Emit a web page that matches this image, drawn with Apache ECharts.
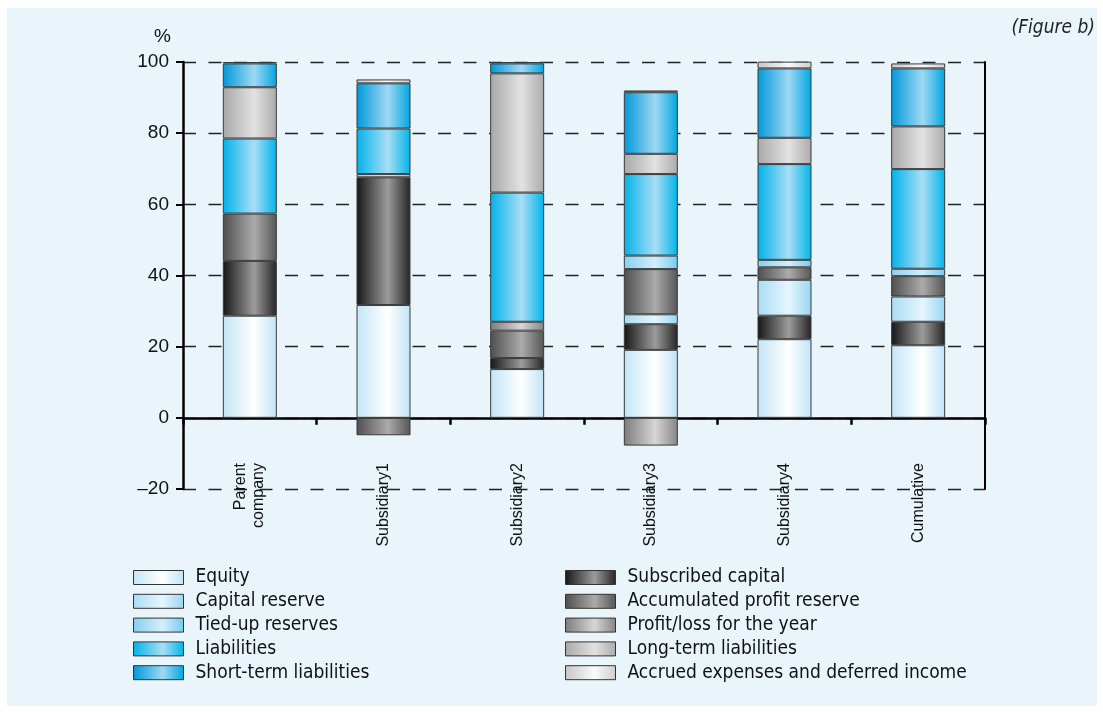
<!DOCTYPE html>
<html>
<head>
<meta charset="utf-8">
<script src="https://cdn.jsdelivr.net/npm/echarts@6/dist/echarts.min.js"></script>
<style>
  html, body { margin: 0; padding: 0; background: #ffffff; }
  #chart { width: 1103px; height: 712px; }
</style>
</head>
<body>
<div id="chart"></div>
<script>
// Balance-sheet structure per company, in % of total
const categories = ['Parent\ncompany', 'Subsidiary1', 'Subsidiary2', 'Subsidiary3', 'Subsidiary4', 'Cumulative'];

const equity                   = [28.7, 31.7, 13.7, 19.1, 22.1, 20.4];
const subscribedCapital        = [15.4, 35.9,  3.1,  7.2,  6.6,  6.6];
const capitalReserve           = [ 0.0,  0.9,  0.0,  2.8, 10.1,  7.1];
const accumulatedProfitReserve = [13.3, -4.9,  7.7, 12.7,  3.5,  5.7];
const tiedUpReserves           = [ 0.0,  0.0,  0.0,  3.8,  2.1,  2.1];
const profitLossForYear        = [ 0.0,  0.0,  2.5, -7.8,  0.0,  0.0];
const liabilities              = [21.1, 12.8, 36.3, 22.9, 26.9, 28.0];
const longTermLiabilities      = [14.4,  0.0, 33.5,  5.7,  7.4, 12.0];
const shortTermLiabilities     = [ 6.7, 12.7,  2.8, 17.3, 19.5, 16.3];
const accruedExpenses          = [ 0.4,  1.1,  0.4,  0.5,  1.9,  1.4];

const yTicks = { min: -20, max: 100, interval: 20 };

// Cylinder-like shading: dark edges, bright band slightly right of centre
function shade(edgeL, mid, edgeR) {
  return new echarts.graphic.LinearGradient(0, 0, 1, 0, [
    { offset: 0, color: edgeL },
    { offset: 0.58, color: mid },
    { offset: 1, color: edgeR }
  ]);
}

// Stack order bottom-to-top
const seriesDefs = [
  { name: 'Equity',                              data: equity,                   color: shade('#c2e5f7', '#ffffff', '#bfe3f6') },
  { name: 'Subscribed capital',                  data: subscribedCapital,        color: shade('#161616', '#9c9c9c', '#242424') },
  { name: 'Capital reserve',                     data: capitalReserve,           color: shade('#a9dcf4', '#e6f6fd', '#98d5f2') },
  { name: 'Accumulated profit reserve',          data: accumulatedProfitReserve, color: shade('#4e4e4e', '#ababab', '#555555') },
  { name: 'Tied-up reserves',                    data: tiedUpReserves,           color: shade('#88cff0', '#d2effb', '#76c9ee') },
  { name: 'Profit/loss for the year',            data: profitLossForYear,        color: shade('#7c7c7c', '#d6d6d6', '#858585') },
  { name: 'Liabilities',                         data: liabilities,              color: shade('#00b2ea', '#a9def5', '#00b4ea') },
  { name: 'Long-term liabilities',               data: longTermLiabilities,      color: shade('#a8a8a8', '#e2e2e2', '#ababab') },
  { name: 'Short-term liabilities',              data: shortTermLiabilities,     color: shade('#0098da', '#9fd8f3', '#00a6e1') },
  { name: 'Accrued expenses and deferred income', data: accruedExpenses,         color: shade('#c6c6c6', '#fbfbfb', '#cdcdcd') }
];

const legendLeft  = ['Equity', 'Capital reserve', 'Tied-up reserves', 'Liabilities', 'Short-term liabilities'];
const legendRight = ['Subscribed capital', 'Accumulated profit reserve', 'Profit/loss for the year', 'Long-term liabilities', 'Accrued expenses and deferred income'];

const legendFont = '"Liberation Sans Narrow", "DejaVu Sans Condensed", "Liberation Sans", sans-serif';

function legendBlock(left, names) {
  return {
    orient: 'vertical',
    left: left,
    top: 568,
    padding: 0,
    data: names,
    icon: 'rect',
    itemWidth: 50,
    itemHeight: 14,
    itemGap: 4.8,
    itemStyle: { borderColor: '#333333', borderWidth: 1 },
    textStyle: {
      fontFamily: legendFont,
      fontSize: 19,
      color: '#111111',
      lineHeight: 19,
      padding: [0, 0, 0, 7]
    },
    selectedMode: false
  };
}

const chart = echarts.init(document.getElementById('chart'), null, { renderer: 'canvas' });

chart.setOption({
  animation: false,
  backgroundColor: '#ffffff',
  textStyle: { fontFamily: '"Liberation Sans", Arial, sans-serif' },
  graphic: [
    {
      type: 'rect', z: -10, silent: true,
      shape: { x: 7, y: 8, width: 1090, height: 698 },
      style: { fill: '#e9f4fb' }
    },
    {
      type: 'text', left: 154, top: 27,
      style: { text: '%', fontSize: 19, fill: '#111111', fontFamily: '"Liberation Sans", Arial, sans-serif' }
    },
    {
      type: 'text', right: 8, top: 19,
      style: {
        text: '(Figure b)', fontSize: 19, fontStyle: 'italic', fill: '#222222',
        fontFamily: legendFont
      }
    }
  ],
  legend: [legendBlock(133, legendLeft), legendBlock(565, legendRight)],
  grid: { left: 183, right: 118, top: 62, bottom: 223, containLabel: false },
  xAxis: {
    type: 'category',
    data: categories,
    axisLine: { onZero: true, lineStyle: { color: '#000000', width: 2.5 } },
    axisTick: { show: true, inside: false, length: 7, lineStyle: { color: '#000000', width: 2.5 } },
    axisLabel: {
      rotate: 90,
      margin: -26,
      fontSize: 16,
      lineHeight: 18,
      color: '#111111',
      interval: 0
    },
    splitLine: { show: false }
  },
  yAxis: [
    {
      type: 'value',
      min: yTicks.min, max: yTicks.max, interval: yTicks.interval,
      axisLine: { show: true, lineStyle: { color: '#000000', width: 2.5 } },
      axisTick: { show: true, length: 7, lineStyle: { color: '#000000', width: 2 } },
      axisLabel: {
        fontSize: 19, color: '#111111', margin: 14,
        formatter: v => String(v).replace('-', '\u2013')
      },
      splitLine: { show: true, lineStyle: { color: '#222222', width: 1.3, type: [13, 12.5] } }
    },
    {
      type: 'value',
      position: 'right',
      min: yTicks.min, max: yTicks.max, interval: yTicks.interval,
      axisLine: { show: true, lineStyle: { color: '#000000', width: 2 } },
      axisTick: { show: false },
      axisLabel: { show: false },
      splitLine: { show: false }
    }
  ],
  series: seriesDefs.map(s => ({
    name: s.name,
    type: 'bar',
    stack: 'structure',
    barWidth: 54,
    data: s.data.map(v => (v === 0 ? '-' : v)),
    itemStyle: { color: s.color, borderColor: '#3a3a3a', borderWidth: 1 },
    emphasis: { disabled: true }
  }))
});
</script>
</body>
</html>
